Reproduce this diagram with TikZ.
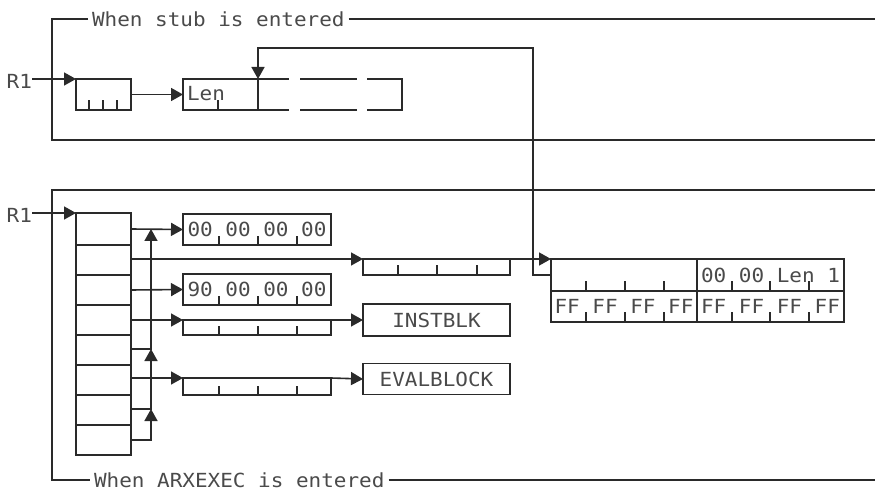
\documentclass[tikz,border=0pt]{standalone}
\usepackage{fontspec}
\newfontfamily\dmono{DejaVu Sans Mono}[FakeStretch=1.08]
\usetikzlibrary{arrows.meta}
\definecolor{ink}{HTML}{2A2A2A}
\definecolor{tink}{HTML}{4A4A4A}
\begin{document}
\begin{tikzpicture}[x=1bp,y=-1bp,
  every node/.style={inner sep=0pt, outer sep=0pt},
  ln/.style={draw=ink, line width=1.6bp},
  frm/.style={draw=ink, line width=1.7bp},
  cellwh/.style 2 args={ln, rectangle, minimum width=#1bp, minimum height=#2bp},
  txt/.style={font=\dmono\fontsize{19.5}{20}\selectfont, text=tink},
  arr/.style={ln, -{Triangle[length=12bp,width=13bp]}},
]
\useasboundingbox (0,0) rectangle (875,491);

% ---------- frame 1 ----------
\node[txt, anchor=west, inner xsep=4bp] (t1) at (88,19) {When stub is entered};
\draw[frm] (t1.west) -| (52,140) -- (875,140);
\draw[frm] (t1.east) -- (875,19);

\node[txt, anchor=east] (r1a) at (32,81) {R1};
\node[cellwh={55}{31}] (sb) at (103.5,94.5) {};
\foreach \x in {89,103,117} \draw[ln] (\x,110) -- ++(0,-10);
\draw[arr] (r1a.east |- sb.north) -- (sb.north west);

\node[cellwh={75}{31}] (lenl) at (220.5,94.5) {};
\node[txt, anchor=west] (lentxt) at ([xshift=4bp,yshift=1bp]lenl.west) {Len};
\draw[ln] (218,110) -- ++(0,-10);
\draw[ln] (258,79) -- (289,79) (300,79) -- (357,79) (367,79) -- (402,79) -- (402,110) -- (367,110)
          (357,110) -- (300,110) (289,110) -- (258,110);
\draw[arr] (sb.east) -- (lenl.west);

% ---------- frame 2 ----------
\node[txt, anchor=west, inner xsep=4bp] (t2) at (90,480) {When ARXEXEC is entered};
\draw[frm] (875,190) -| (52,480) -- (t2.west);
\draw[frm] (t2.east) -- (875,480);

\node[txt, anchor=east] (r1b) at (32,215) {R1};
\node[cellwh={55}{242}] (lst) at (103.5,334) {};
\foreach \y in {245,275,305,335,365,395,425} \draw[ln] (76,\y) -- (131,\y);
\draw[arr] (r1b.east |- lst.north) -- (lst.north west);

\coordinate (r1) at (131,229);
\coordinate (r2) at (131,259);
\coordinate (r3) at (131,290);
\coordinate (r4) at (131,320);
\coordinate (r5) at (131,349);
\coordinate (r6) at (131,378);
\coordinate (r7) at (131,409);
\coordinate (r8) at (131,440);
\coordinate (vc) at (151,0);

\node[cellwh={148}{31}, txt] (z1) at (257,229.5) {00 00 00 00};
\node[cellwh={148}{31}, txt] (z2) at (257,289.5) {90 00 00 00};
\node[cellwh={148}{15}] (bar1) at (257,327.5) {};
\node[cellwh={148}{17}] (bar2) at (257,386.5) {};
\foreach \x in {219,258,297} {
  \draw[ln] (\x,245) -- ++(0,-9);
  \draw[ln] (\x,305) -- ++(0,-9);
  \draw[ln] (\x,335) -- ++(0,-9);
  \draw[ln] (\x,395) -- ++(0,-9);
}

\node[cellwh={147}{16}] (bxb) at (436.5,267) {};
\foreach \x in {398,437,477} \draw[ln] (\x,275) -- ++(0,-10);
\node[cellwh={147}{32}, txt] (inst) at (436.5,320) {INSTBLK};
\node[cellwh={147}{31}, txt] (eval) at (436.5,379) {EVALBLOCK};

\node[cellwh={146}{32}] (bbl1) at (624,275) {};
\node[cellwh={147}{32}, txt] (bbr1) at (770.5,275) {00 00 Len 1};
\node[cellwh={146}{31}, txt] (bbl2) at (624,306.5) {FF FF FF FF};
\node[cellwh={147}{31}, txt] (bbr2) at (770.5,306.5) {FF FF FF FF};
\foreach \x in {586,625,664,732,770,809} {
  \draw[ln] (\x,291) -- ++(0,-10);
  \draw[ln] (\x,322) -- ++(0,-10);
}

% connectors
\draw[arr] (r1) -- (z1.west);
\draw[arr] (r2) -- (bxb.north west);
\draw[arr] (bxb.north east) -- (bbl1.north west);
\draw[arr] (r3) -- (z2.west);
\draw[arr] (r4) -- (bar1.north west);
\draw[arr] (bar1.north east) -- (inst.west);
\draw[arr] (r6) -- (bar2.north west);
\draw[arr] (bar2.north east) -- (eval.west);
\draw[arr] (r8) -| (r7 -| vc);
\draw[arr] (r7) -| (r5 -| vc);
\draw[arr] (r5) -| (r1 -| vc);

\coordinate (turn) at (533,48);
\draw[arr] (bbl1.west) -| (turn) -| (lenl.north east);
\end{tikzpicture}
\end{document}
